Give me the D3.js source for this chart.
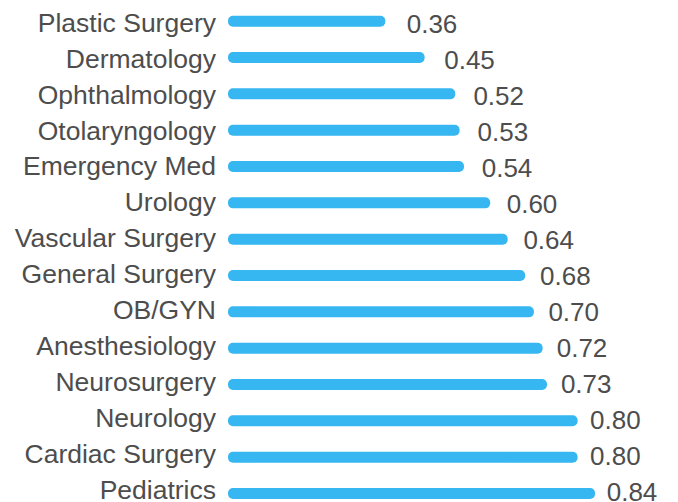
<!DOCTYPE html>
<html lang="en">
<head>
    <meta charset="UTF-8">
    <title>Specialty bars</title>
    <script src="https://d3js.org/d3.v7.min.js"></script>
    <style>
        body {
            margin: 0;
            background-color: #ffffff;
        }

        .label {
            font-family: 'Liberation Sans', 'Helvetica Neue', Arial, sans-serif;
            font-size: 26.5px;
            fill: #4d4d4d;
        }

        .value {
            font-family: 'Liberation Sans', 'Helvetica Neue', Arial, sans-serif;
            font-size: 26px;
            fill: #4d4d4d;
        }

        .bar {
            fill: #37b7f1;
        }
    </style>
</head>
<body>

    <svg id="chart"></svg>

    <script>
        var specialties = ["Plastic Surgery", "Dermatology", "Ophthalmology", "Otolaryngology",
            "Emergency Med", "Urology", "Vascular Surgery", "General Surgery", "OB/GYN",
            "Anesthesiology", "Neurosurgery", "Neurology", "Cardiac Surgery", "Pediatrics"];
        var scores = [0.36, 0.45, 0.52, 0.53, 0.54, 0.60, 0.64, 0.68, 0.70, 0.72, 0.73, 0.80, 0.80, 0.84];

        var width = 678, height = 502;

        var svg = d3.select("#chart")
            .attr("width", width)
            .attr("height", height);

        // bar rows
        var y = d3.scalePoint()
            .domain(specialties)
            .range([21.2, 493.5]);

        // text baselines are spaced a touch tighter than the bars
        var yLabel = d3.scalePoint()
            .domain(specialties)
            .range([31.7, 499]);

        var yValue = d3.scalePoint()
            .domain(specialties)
            .range([33.3, 501]);

        // bar length
        var x = d3.scaleLinear()
            .domain([0, 1])
            .range([228, 665]);

        // value labels sit on their own slightly flatter scale
        var xText = d3.scaleLinear()
            .domain([0, 1])
            .range([256.7, 673.4]);

        var barH = 11;

        svg.selectAll("rect.bar")
            .data(specialties)
            .enter().append("rect")
            .attr("class", "bar")
            .attr("x", x(0))
            .attr("y", d => y(d) - barH / 2)
            .attr("width", (d, i) => x(scores[i]) - x(0))
            .attr("height", barH)
            .attr("rx", 5)
            .attr("ry", 5);

        svg.selectAll("text.label")
            .data(specialties)
            .enter().append("text")
            .attr("class", "label")
            .attr("x", 216)
            .attr("y", d => yLabel(d))
            .attr("text-anchor", "end")
            .text(d => d);

        svg.selectAll("text.value")
            .data(specialties)
            .enter().append("text")
            .attr("class", "value")
            .attr("x", (d, i) => xText(scores[i]))
            .attr("y", d => yValue(d))
            .text((d, i) => scores[i].toFixed(2));
    </script>

</body>
</html>
